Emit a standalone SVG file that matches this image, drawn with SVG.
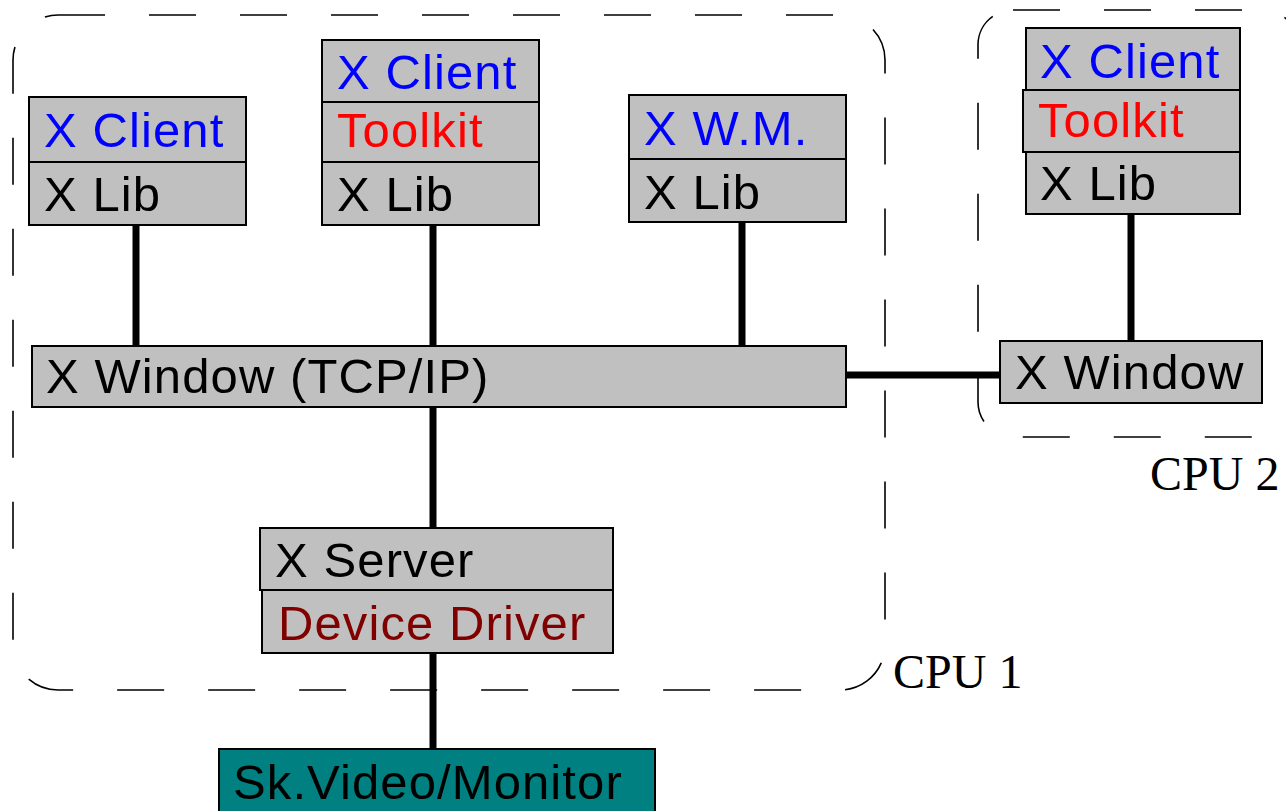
<svg xmlns="http://www.w3.org/2000/svg" width="1286" height="811" viewBox="0 0 1286 811">
<style>
.cell{fill:#c0c0c0;stroke:#000;stroke-width:2}
.t{font-family:"Liberation Sans",Arial,sans-serif;font-size:49px;fill:#000;letter-spacing:1.1px}
.b{fill:#0000ff}.r{fill:#ff0000}.dr{fill:#800000}
.cpu{fill:none;stroke:#000;stroke-width:1.6;stroke-dasharray:47 44}
.lbl{font-family:"Liberation Serif","Times New Roman",serif;font-size:48px;fill:#000}
.wire{stroke:#000;stroke-width:7;fill:none}
</style>
<rect width="1286" height="811" fill="#fff"/>
<g id="cpu1">
<rect class="cpu" x="13" y="15" width="872" height="675" rx="45" ry="45"/>
<text class="lbl" x="893" y="688">CPU 1</text>
</g>
<g id="cpu2">
<rect class="cpu" x="978" y="10" width="320" height="427" rx="35" ry="35"/>
<text class="lbl" x="1150" y="490">CPU 2</text>
</g>
<g id="connectors">
<line class="wire" x1="136" y1="225" x2="136" y2="346"/>
<line class="wire" x1="433" y1="225" x2="433" y2="346"/>
<line class="wire" x1="742" y1="222" x2="742" y2="346"/>
<line class="wire" x1="1131" y1="214" x2="1131" y2="341"/>
<line class="wire" x1="846" y1="375" x2="1000" y2="375"/>
<line class="wire" x1="433" y1="407" x2="433" y2="528"/>
<line class="wire" x1="433" y1="653" x2="433" y2="749"/>
</g>
<g id="client1">
<rect class="cell" x="29" y="97" width="217" height="65"/>
<rect class="cell" x="29" y="162" width="217" height="63"/>
<text class="t b" x="44" y="147">X Client</text>
<text class="t" x="44" y="211">X Lib</text>
</g>
<g id="client2">
<rect class="cell" x="322" y="40" width="217" height="62"/>
<rect class="cell" x="322" y="102" width="217" height="60"/>
<rect class="cell" x="322" y="162" width="217" height="63"/>
<text class="t b" x="337" y="89">X Client</text>
<text class="t r" x="337" y="147">Toolkit</text>
<text class="t" x="337" y="211">X Lib</text>
</g>
<g id="wm">
<rect class="cell" x="629" y="95" width="217" height="64"/>
<rect class="cell" x="629" y="159" width="217" height="63"/>
<text class="t b" x="644" y="145">X W.M.</text>
<text class="t" x="644" y="209">X Lib</text>
</g>
<g id="client3">
<rect class="cell" x="1026" y="28" width="214" height="62"/>
<rect class="cell" x="1023" y="90" width="217" height="62"/>
<rect class="cell" x="1026" y="152" width="214" height="62"/>
<text class="t b" x="1040" y="78">X Client</text>
<text class="t r" x="1038" y="137">Toolkit</text>
<text class="t" x="1040" y="200">X Lib</text>
</g>
<g id="xwindow1">
<rect class="cell" x="32" y="346" width="814" height="61"/>
<text class="t" x="46" y="393">X Window (TCP/IP)</text>
</g>
<g id="xwindow2">
<rect class="cell" x="1000" y="341" width="262" height="62"/>
<text class="t" x="1015" y="389">X Window</text>
</g>
<g id="xserver">
<rect class="cell" x="260" y="528" width="353" height="62"/>
<rect class="cell" x="262" y="590" width="351" height="63"/>
<text class="t" x="275" y="577">X Server</text>
<text class="t dr" x="278" y="640">Device Driver</text>
</g>
<g id="monitor">
<rect x="219" y="749" width="436" height="70" fill="#008080" stroke="#000" stroke-width="2"/>
<text class="t" x="233" y="799">Sk.Video/Monitor</text>
</g>
</svg>
